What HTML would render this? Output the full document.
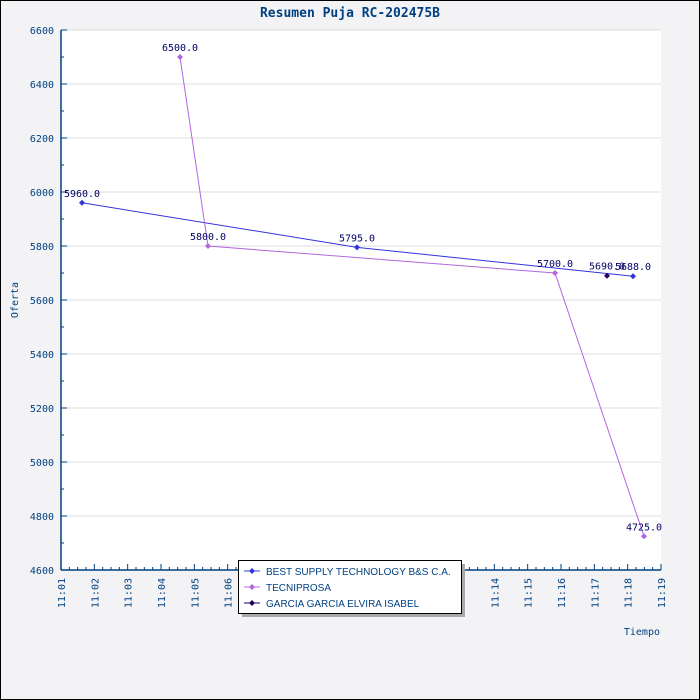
<!DOCTYPE html>
<html><head><meta charset="utf-8"><style>
html,body{margin:0;padding:0;background:#fff}
svg{display:block;font-family:"DejaVu Sans Mono","Liberation Mono",monospace}
</style></head><body>
<svg id="chart" width="700" height="700" xmlns="http://www.w3.org/2000/svg">
<rect x="0.5" y="0.5" width="699" height="699" fill="#f3f3f5" stroke="#000"/>
<text x="350" y="17" text-anchor="middle" font-size="13" font-weight="bold" fill="#004080">Resumen Puja RC-202475B</text>
<rect x="61" y="30" width="600" height="540" fill="#fff"/>
<g id="grid"></g><g id="axes"></g><g id="series"></g>
<text x="18" y="300" transform="rotate(-90 18 300)" text-anchor="middle" font-size="10" fill="#004080">Oferta</text>
<text x="660" y="635" text-anchor="end" font-size="10" fill="#004080">Tiempo</text>
<g>
<rect x="242" y="564" width="223" height="53" fill="#aaa"/>
<rect x="238.5" y="560.5" width="223" height="53" fill="#fff" stroke="#000"/>
<g id="legend-items"></g>
</g>
</svg>
<script>
const yTicks=[4600,4800,5000,5200,5400,5600,5800,6000,6200,6400,6600];
const xTickLabels=["11:01","11:02","11:03","11:04","11:05","11:06","11:07","11:08","11:09","11:10","11:11","11:12","11:13","11:14","11:15","11:16","11:17","11:18","11:19"];
const seriesNames=["BEST SUPPLY TECHNOLOGY B&S C.A.","TECNIPROSA","GARCIA GARCIA ELVIRA ISABEL"];
const seriesColors=["#3333dd","#b366e0","#220066"];
const bestTimes=[1.63,9.88,18.16];
const bestValues=[5960,5795,5688];
const tecTimes=[4.57,5.41,15.82,18.49];
const tecValues=[6500,5800,5700,4725];
const garTimes=[17.38];
const garValues=[5690];
const NS="http://www.w3.org/2000/svg";
const X0=61,X1=661,Y0=570,Y1=30,TMIN=1,TMAX=19,VMIN=4600,VMAX=6600;
const xs=t=>X0+(t-TMIN)/(TMAX-TMIN)*(X1-X0);
const ys=v=>Y0-(v-VMIN)/(VMAX-VMIN)*(Y0-Y1);
function mk(tag,attrs,parent){const e=document.createElementNS(NS,tag);for(const k in attrs)e.setAttribute(k,attrs[k]);parent.appendChild(e);return e;}
const grid=document.getElementById('grid'),axes=document.getElementById('axes'),ser=document.getElementById('series');
yTicks.forEach((v,i)=>{const y=ys(v);
 if(i>0){const g=mk('line',{x1:X0,x2:X1,y1:y,y2:y,stroke:'#dcdcdc'},grid);}
 mk('line',{x1:X0,x2:X0+6,y1:y,y2:y,stroke:'#004080'},axes);
 if(i<yTicks.length-1)mk('line',{x1:X0,x2:X0+3,y1:ys(v+100),y2:ys(v+100),stroke:'#004080'},axes);
 const t=mk('text',{x:X0-7,y:y+4,'text-anchor':'end','font-size':10,fill:'#004080'},axes);t.textContent=v;
 });
mk('line',{x1:X0,x2:X0,y1:Y1,y2:Y0,stroke:'#004080','stroke-width':1.5},axes);
mk('line',{x1:X0,x2:X1,y1:Y0,y2:Y0,stroke:'#004080','stroke-width':1.5},axes);
xTickLabels.forEach((lab,i)=>{const x=xs(TMIN+i);
 mk('line',{x1:x,x2:x,y1:Y0,y2:Y0-6,stroke:'#004080'},axes);
 if(i<xTickLabels.length-1)for(let q=1;q<4;q++){const xm=xs(TMIN+i+q/4);mk('line',{x1:xm,x2:xm,y1:Y0,y2:Y0-3,stroke:'#004080'},axes);}
 const t=mk('text',{x:x+4,y:578,transform:`rotate(-90 ${x+4} 578)`,'text-anchor':'end','font-size':10,fill:'#004080'},axes);t.textContent=lab;
 });
function diamond(x,y,c,p){return mk('polygon',{points:`${x},${y-3} ${x+3},${y} ${x},${y+3} ${x-3},${y}`,fill:c},p);}
const all=[[bestTimes,bestValues],[tecTimes,tecValues],[garTimes,garValues]];
all.forEach(([ts,vs],si)=>{const g=mk('g',{},ser);
 
 if(ts.length>1)mk('polyline',{points:ts.map((t,i)=>xs(t)+','+ys(vs[i])).join(' '),fill:'none',stroke:seriesColors[si]},g);
 ts.forEach((t,i)=>{const d=diamond(xs(t),ys(vs[i]),seriesColors[si],g);
  const l=mk('text',{x:xs(t),y:ys(vs[i])-6,'text-anchor':'middle','font-size':10,fill:'#000066'},g);l.textContent=vs[i].toFixed(1);
  });});
const li=document.getElementById('legend-items');
seriesNames.forEach((n,i)=>{const y=571+i*16;
 mk('line',{x1:244,x2:260,y1:y,y2:y,stroke:seriesColors[i]},li);diamond(252,y,seriesColors[i],li);
 const t=mk('text',{x:266,y:y+4,'font-size':10,fill:'#004080','font-family':'Liberation Sans, sans-serif'},li);t.textContent=n;
 });
</script>
</body></html>
